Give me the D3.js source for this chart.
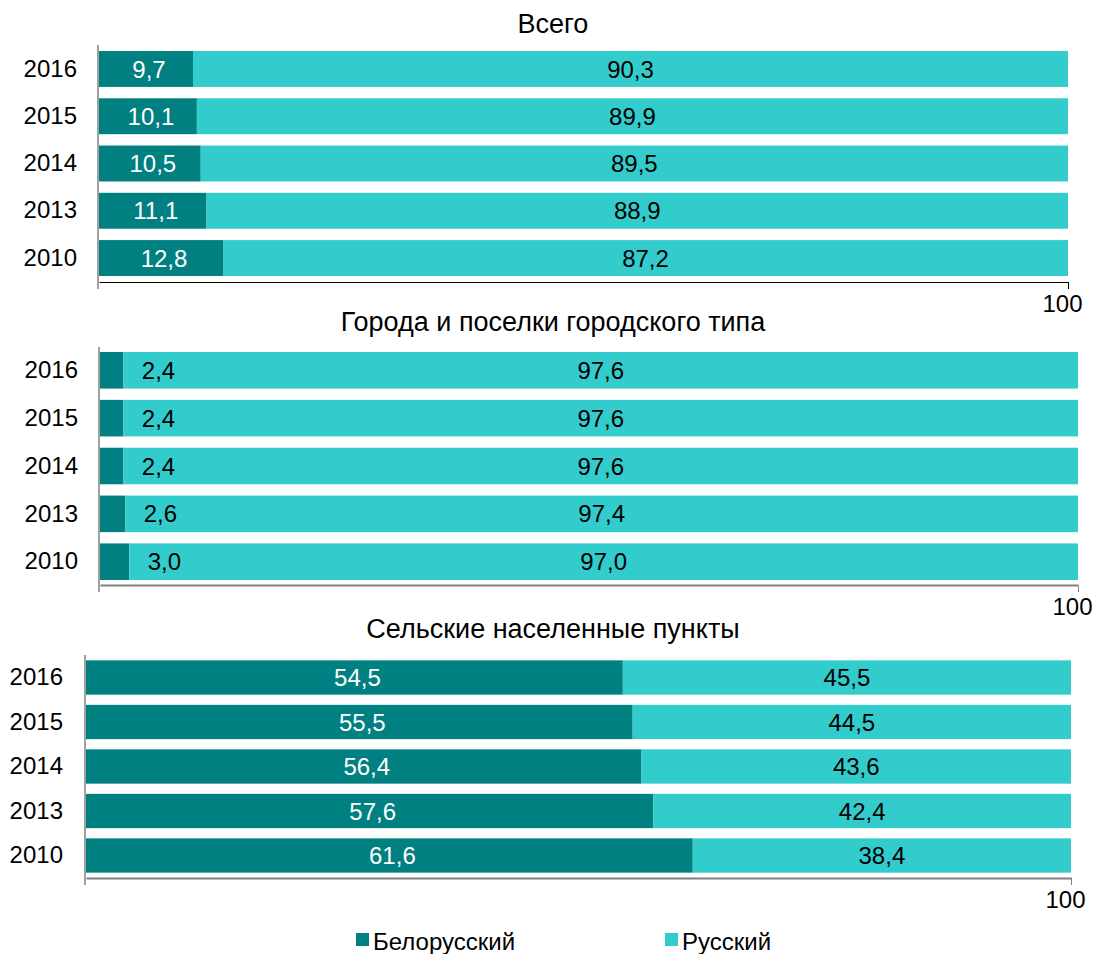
<!DOCTYPE html>
<html>
<head>
<meta charset="utf-8">
<style>
  body { margin: 0; background: #fff; font-family: Arial, "Liberation Sans", sans-serif; }
  text { font-family: Arial, "Liberation Sans", sans-serif; }
</style>
<script src="https://cdn.jsdelivr.net/npm/d3@7"></script>
</head>
<body>
<script>
// data
var years = ["2016", "2015", "2014", "2013", "2010"];
var seriesNames = ["Белорусский", "Русский"];
var panelTitles = ["Всего", "Города и поселки городского типа", "Сельские населенные пункты"];
var totalBel = [9.7, 10.1, 10.5, 11.1, 12.8];
var totalRus = [90.3, 89.9, 89.5, 88.9, 87.2];
var urbanBel = [2.4, 2.4, 2.4, 2.6, 3.0];
var urbanRus = [97.6, 97.6, 97.6, 97.4, 97.0];
var ruralBel = [54.5, 55.5, 56.4, 57.6, 61.6];
var ruralRus = [45.5, 44.5, 43.6, 42.4, 38.4];
var axisTicks = [100];

var colors = ["#008080", "#33cccc"];
var W = 1097, H = 954;
var fs = 24;
var fmt = d3.formatLocale({decimal: ",", thousands: " ", grouping: [3], currency: ["", ""]}).format(".1f");

var svg = d3.select("body").append("svg").attr("width", W).attr("height", H);

// layout of the three panels
var panels = [
  {title: panelTitles[0], bel: totalBel, rus: totalRus, x0: 99, x1: 1068, top: 45, bottom: 282, titleY: 33,
   pi: 0.24, po: 0.127, belLabel: "inside", belColor: "#fff", axisColor: "#000", yearX: 77},
  {title: panelTitles[1], bel: urbanBel, rus: urbanRus, x0: 100, x1: 1078, top: 347, bottom: 585, titleY: 331,
   pi: 0.236, po: 0.105, belLabel: "outside", belColor: "#000", axisColor: "#808080", yearX: 78},
  {title: panelTitles[2], bel: ruralBel, rus: ruralRus, x0: 86, x1: 1071, top: 655, bottom: 878, titleY: 638,
   pi: 0.229, po: 0.12, belLabel: "inside", belColor: "#fff", axisColor: "#808080", yearX: 63}
];

panels.forEach(function(p) {
  var x = d3.scaleLinear().domain([0, 100]).range([p.x0, p.x1]);
  var y = d3.scaleBand().domain(years).range([p.top, p.bottom]).paddingInner(p.pi).paddingOuter(p.po);
  var g = svg.append("g");

  g.append("text")
    .attr("x", 553).attr("y", p.titleY)
    .attr("text-anchor", "middle")
    .attr("font-size", 27)
    .text(p.title);

  var rows = years.map(function(yr, i) { return {year: yr, bel: p.bel[i], rus: p.rus[i]}; });

  g.selectAll("rect.bel").data(rows).enter().append("rect")
    .attr("class", "bel")
    .attr("x", x(0))
    .attr("y", function(d) { return y(d.year); })
    .attr("width", function(d) { return x(d.bel) - x(0); })
    .attr("height", y.bandwidth())
    .attr("fill", colors[0]);

  g.selectAll("rect.rus").data(rows).enter().append("rect")
    .attr("class", "rus")
    .attr("x", function(d) { return x(d.bel); })
    .attr("y", function(d) { return y(d.year); })
    .attr("width", function(d) { return x(d.bel + d.rus) - x(d.bel); })
    .attr("height", y.bandwidth())
    .attr("fill", colors[1]);

  // value labels
  g.selectAll("text.belv").data(rows).enter().append("text")
    .attr("class", "belv")
    .attr("x", function(d) {
      return p.belLabel == "inside" ? (x(0) + x(d.bel)) / 2 + 3 : x(d.bel) + 35;
    })
    .attr("y", function(d) { return y(d.year) + y.bandwidth() / 2; })
    .attr("dy", "0.36em")
    .attr("text-anchor", "middle")
    .attr("font-size", fs)
    .attr("fill", p.belColor)
    .text(function(d) { return fmt(d.bel); });

  g.selectAll("text.rusv").data(rows).enter().append("text")
    .attr("class", "rusv")
    .attr("x", function(d) { return (x(d.bel) + x(d.bel + d.rus)) / 2; })
    .attr("y", function(d) { return y(d.year) + y.bandwidth() / 2; })
    .attr("dy", "0.36em")
    .attr("text-anchor", "middle")
    .attr("font-size", fs)
    .attr("fill", "#000")
    .text(function(d) { return fmt(d.rus); });

  // year labels
  var yAx = g.append("g")
    .attr("transform", "translate(" + p.yearX + ",0)")
    .call(d3.axisLeft(y).tickSize(0).tickPadding(0));
  yAx.select(".domain").remove();
  yAx.selectAll("text").attr("font-size", fs).attr("fill", "#000").attr("font-family", null);

  // vertical axis line
  g.append("line")
    .attr("x1", p.x0 - 1).attr("x2", p.x0 - 1)
    .attr("y1", p.top).attr("y2", p.bottom + 7)
    .attr("stroke", "#808080").attr("stroke-width", 1.5);

  // bottom axis
  var xAx = g.append("g")
    .attr("transform", "translate(0," + p.bottom + ")")
    .call(d3.axisBottom(x).tickValues(axisTicks).tickSize(7).tickSizeOuter(0).tickFormat(d3.format("d")));
  xAx.select(".domain").attr("stroke", p.axisColor).attr("stroke-width", p.axisColor == "#000" ? 1.2 : 2);
  xAx.selectAll(".tick line").attr("stroke", p.axisColor);
  xAx.selectAll(".tick text").attr("font-size", fs).attr("font-family", null).attr("fill", "#000")
    .attr("dx", -6).attr("y", 13);
});

// legend
var legend = svg.append("g");
var legX = [356, 665];
seriesNames.forEach(function(name, i) {
  legend.append("rect")
    .attr("x", legX[i]).attr("y", 933)
    .attr("width", 13).attr("height", 13)
    .attr("fill", colors[i]);
  legend.append("text")
    .attr("x", legX[i] + 17).attr("y", 950)
    .attr("font-size", fs)
    .text(name);
});
</script>
</body>
</html>
